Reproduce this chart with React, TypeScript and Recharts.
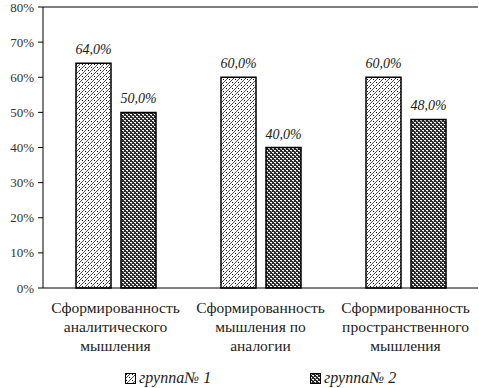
import { BarChart, Bar, XAxis, YAxis, ReferenceLine, LabelList } from 'recharts';

const categories = [
  ['Сформированность', 'аналитического', 'мышления'],
  ['Сформированность', 'мышления по', 'аналогии'],
  ['Сформированность', 'пространственного', 'мышления'],
];
const group1 = [64, 60, 60];
const group2 = [50, 40, 48];
const yTicks = [0, 10, 20, 30, 40, 50, 60, 70, 80];
const seriesNames = ['группа№ 1', 'группа№ 2'];

const chartData = categories.map((lines, i) => ({
  name: String(i),
  g1: group1[i],
  g2: group2[i],
}));

const serif = "'Liberation Serif', 'DejaVu Serif', serif";

const fmt = (v: any) => `${Number(v).toFixed(1).replace('.', ',')}%`;

function CategoryTick({ x, y, payload }: any) {
  const lines = categories[Number(payload.value)];
  return (
    <text x={x} y={y} textAnchor="middle" style={{ fontFamily: serif, fontSize: 15.5 }} fill="#222">
      {lines.map((l, i) => (
        <tspan key={i} x={x} dy={i === 0 ? 17 : 19}>{l}</tspan>
      ))}
    </text>
  );
}

function Swatch({ fill }: { fill: string }) {
  return (
    <svg width={11} height={11} style={{ verticalAlign: '-1px', marginRight: 3 }}>
      <rect x={0.5} y={0.5} width={10} height={10} fill={fill} stroke="#000" strokeWidth={1} />
    </svg>
  );
}

export default function App() {
  return (
    <div style={{ width: 479, height: 388, position: 'relative', background: '#fff', fontFamily: serif }}>
      <style>{'body{margin:0} .recharts-text{font-family:"Liberation Serif","DejaVu Serif",serif}'}</style>
      <svg width={0} height={0} style={{ position: 'absolute' }}>
        <defs>
          <pattern id="pat1" width={6} height={6} patternUnits="userSpaceOnUse">
            <rect width={6} height={6} fill="#fff" />
            <path d="M0,6 L6,0 M-1,1 L1,-1 M5,7 L7,5" stroke="#000" strokeWidth={0.7} />
            <rect x={1} y={1} width={1} height={1} fill="#000" />
            <rect x={4} y={4} width={1} height={1} fill="#000" />
          </pattern>
          <pattern id="pat2" width={4} height={4} patternUnits="userSpaceOnUse">
            <rect width={4} height={4} fill="#2a2a2a" />
            <rect x={0} y={0} width={2} height={1} fill="#fff" />
            <rect x={2} y={2} width={2} height={1} fill="#fff" />
            <rect x={1} y={1} width={1} height={1} fill="#999" />
            <rect x={3} y={3} width={1} height={1} fill="#999" />
          </pattern>
        </defs>
      </svg>
      <BarChart
        width={479}
        height={360}
        data={chartData}
        margin={{ top: 7, right: 1, left: 0, bottom: 0 }}
        barSize={35}
        barGap={10}
      >
        <YAxis
          domain={[0, 80]}
          ticks={yTicks}
          width={43}
          tickFormatter={(v) => `${v}%`}
          tickSize={5}
          tickMargin={4}
          axisLine={{ stroke: '#000' }}
          tickLine={{ stroke: '#000' }}
          tick={{ fontSize: 13, fill: '#333' }}
          interval={0}
        />
        <XAxis
          dataKey="name"
          height={72}
          tickLine={false}
          axisLine={{ stroke: '#000' }}
          tick={<CategoryTick />}
          interval={0}
        />
        <ReferenceLine y={80} stroke="#000" />
        <Bar dataKey="g1" name={seriesNames[0]} fill="url(#pat1)" stroke="#000" strokeWidth={1.5} isAnimationActive={false}>
          <LabelList dataKey="g1" position="top" offset={9} formatter={fmt} style={{ fontStyle: 'italic', fontSize: 14, fill: '#222' }} />
        </Bar>
        <Bar dataKey="g2" name={seriesNames[1]} fill="url(#pat2)" stroke="#000" strokeWidth={1.5} isAnimationActive={false}>
          <LabelList dataKey="g2" position="top" offset={9} formatter={fmt} style={{ fontStyle: 'italic', fontSize: 14, fill: '#222' }} />
        </Bar>
      </BarChart>
      <div style={{ position: 'absolute', top: 369, left: 0, width: 479, fontStyle: 'italic', fontSize: 16, color: '#222' }}>
        <span style={{ position: 'absolute', left: 125 }}><Swatch fill="url(#pat1)" />{seriesNames[0]}</span>
        <span style={{ position: 'absolute', left: 310 }}><Swatch fill="url(#pat2)" />{seriesNames[1]}</span>
      </div>
    </div>
  );
}
